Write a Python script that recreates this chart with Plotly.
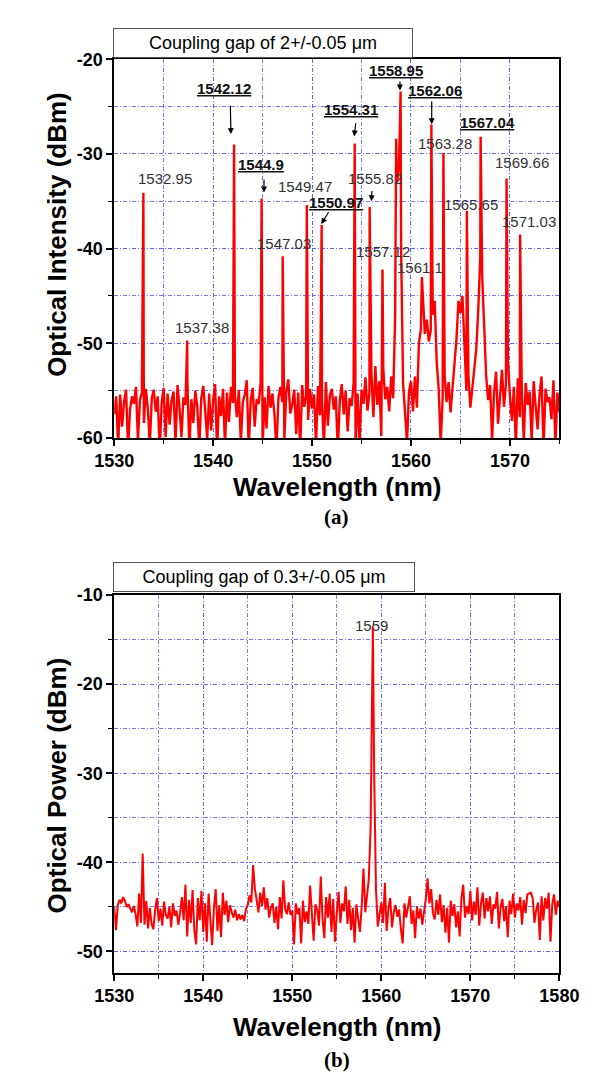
import plotly.graph_objects as go

W, H = 605, 1074

# ---------------- Panel (a) data: coupling gap 2 um ----------------
top_start = 1530.0
top_step = 0.2
top_trace = [
    -57.5, -55.6, -60.9, -55.4, -58.8, -56.1, -54.9, -61.2, -57.0, -55.6,
    -56.4, -54.6, -60.3, -56.0, -55.2, -58.4, -54.8, -56.9, -60.7, -55.8,
    -54.9, -57.2, -55.6, -61.4, -56.3, -54.7, -59.9, -55.3, -58.6, -56.0,
    -55.1, -60.6, -54.4, -56.8, -59.9, -55.7, -56.5, -54.2, -61.3, -55.9,
    -58.4, -55.0, -56.7, -61.0, -55.8, -54.5, -57.1, -60.2, -55.3, -59.2,
    -56.0, -54.3, -61.5, -55.6, -57.7, -54.8, -60.9, -55.2, -58.3, -54.6,
    -56.3, -55.5, -57.8, -54.9, -60.6, -56.2, -55.4, -53.9, -61.2, -56.0,
    -54.7, -58.8, -55.9, -56.4, -54.2, -60.9, -55.7, -59.0, -54.5, -56.8,
    -55.3, -57.5, -61.3, -55.8, -54.6, -56.2, -60.0, -55.1, -53.8, -57.4,
    -56.5, -54.9, -59.6, -55.2, -61.3, -54.4, -56.7, -55.6, -58.1, -54.8,
    -56.9, -55.4, -60.7, -54.5, -57.6, -55.9, -61.0, -54.1, -58.7, -55.5,
    -54.8, -57.0, -55.6, -61.4, -56.1, -54.3, -57.5, -55.0, -59.3, -55.8,
    -56.6, -54.2, -60.9, -55.3, -60.5, -54.9, -56.4, -53.6, -57.1, -55.2,
    -53.1, -57.8, -52.4, -56.5, -54.0, -59.8, -52.7, -55.9, -54.6, -57.2,
    -53.5, -55.8, -47.0, -33.0, -31.0, -40.0, -54.2, -57.6, -60.5, -55.1,
    -54.0, -57.2, -53.5, -56.8, -50.0, -48.5, -45.0, -49.0, -47.5, -49.8,
    -48.6, -47.0, -45.5, -52.0, -54.8, -60.6, -55.7, -53.4, -56.2, -54.1,
    -57.3, -54.6, -51.8, -49.5, -45.5, -46.8, -45.0, -50.5, -55.0, -53.3,
    -56.8, -54.5, -52.7, -50.6, -46.5, -41.0, -43.0, -48.2, -53.5, -56.0,
    -54.4, -60.1, -55.2, -53.0, -58.5, -55.6, -52.8, -56.7, -54.3, -51.9,
    -55.5, -58.2, -54.6, -61.0, -53.7, -57.8, -55.0, -60.3, -54.2, -56.5,
    -55.1, -60.4, -54.0, -56.6, -59.1, -55.3, -53.5, -61.2, -54.8, -56.2,
    -55.7, -58.0, -53.9, -60.8, -55.2, -57.3,
]
top_peak_wl = [1532.95, 1537.38, 1542.12, 1544.9, 1547.03, 1549.47, 1550.97,
               1554.31, 1555.82, 1557.12, 1558.5, 1558.95, 1561.1, 1562.06,
               1563.28, 1565.65, 1567.04, 1569.66, 1571.03]
top_peak_db = [-34.1, -49.7, -29.0, -34.7, -40.8, -35.4, -37.5,
               -28.9, -35.6, -42.2, -28.4, -23.4, -43.0, -26.9,
               -29.9, -36.0, -28.2, -32.6, -38.5]

top_label_text = ["1532.95", "1537.38", "1542.12", "1544.9", "1547.03", "1549.47",
                  "1550.97", "1554.31", "1555.82", "1557.12", "1558.95", "1561.1",
                  "1562.06", "1563.28", "1565.65", "1567.04", "1569.66", "1571.03"]
top_label_bold = [0, 0, 1, 1, 0, 0, 1, 1, 0, 0, 1, 0, 1, 0, 0, 1, 0, 0]

top_xticks = [1530, 1540, 1550, 1560, 1570]
top_yticks = [-60, -50, -40, -30, -20]
top_yticktext = ["-60", "-50", "-40", "-30", "-20"]

# ---------------- Panel (b) data: coupling gap 0.3 um ----------------
bot_start = 1530.0
bot_step = 0.2
bot_trace = [
    -45.0, -47.6, -44.8, -44.2, -44.6, -43.9, -44.3, -45.0, -44.7, -45.2,
    -45.6, -44.9, -45.8, -47.2, -43.5, -46.8, -39.0, -47.0, -44.3, -47.4,
    -45.1, -46.9, -47.5, -45.3, -44.0, -46.6, -45.2, -47.1, -44.4, -45.9,
    -46.3, -45.0, -47.3, -44.6, -46.0, -45.4, -47.0, -45.7, -43.9, -46.5,
    -42.5, -48.3, -44.2, -46.8, -43.1, -47.6, -49.2, -44.0, -46.5, -43.2,
    -47.8, -44.6, -48.9, -43.5, -46.2, -49.3, -45.1, -43.0, -47.7, -44.8,
    -48.4, -43.4, -45.9, -44.3, -46.7, -44.8, -45.6, -46.2, -45.3, -46.5,
    -45.8, -46.4, -45.9, -46.6, -45.2, -44.8, -43.7, -44.5, -40.3, -43.0,
    -44.2, -45.6, -43.4, -44.9, -42.8, -45.3, -44.0, -46.2, -45.1, -44.6,
    -46.8, -45.0, -47.5, -43.9, -46.3, -42.0, -45.2, -45.8, -44.5, -45.9,
    -45.4, -49.2, -44.6, -45.8, -45.1, -49.1, -44.3, -46.7, -45.5, -46.9,
    -42.6, -46.0, -48.8, -44.7, -45.3, -47.1, -41.6, -46.4, -48.5, -43.9,
    -46.2, -43.5, -47.8, -44.1, -48.9, -45.7, -43.3, -46.8, -44.6, -45.5,
    -42.7, -46.9, -44.2, -47.6, -45.1, -49.0, -44.7, -46.3, -47.8, -44.9,
    -40.7, -45.6, -43.5, -41.8, -36.0, -22.0, -30.0, -43.0, -47.2, -45.8,
    -44.5, -46.8, -42.3, -47.7, -45.2, -44.0, -47.3, -45.6, -44.8, -46.1,
    -45.3, -47.5, -49.1, -44.6, -46.2, -45.0, -43.8, -46.9, -45.4, -48.5,
    -44.9, -46.3, -45.2, -47.0, -45.5, -44.1, -41.8, -44.6, -43.0, -45.7,
    -46.4, -44.2, -45.9, -43.6, -46.7, -44.8, -47.9, -45.1, -49.0, -44.3,
    -46.0, -44.7, -47.3, -45.5, -48.3, -44.0, -42.5, -46.2, -44.9, -45.8,
    -43.2, -46.5, -44.4, -45.9, -42.8, -47.1, -44.6, -43.4, -46.3, -44.0,
    -45.5, -43.8, -46.9, -44.7, -45.2, -43.3, -47.4, -45.0, -44.1, -46.6,
    -44.9, -48.4, -44.3, -45.8, -43.5, -46.2, -44.6, -45.4, -43.9, -47.0,
    -44.2, -45.7, -43.6, -43.5, -43.4, -44.0, -46.8, -45.3, -44.5, -48.7,
    -43.8, -46.5, -44.0, -45.2, -43.4, -48.9, -44.7, -43.6, -45.9, -44.3,
    -45.0,
]
bot_peak_wl = [1559.05]
bot_peak_db = [-13.5]
bot_label_text = ["1559"]

bot_xticks = [1530, 1540, 1550, 1560, 1570, 1580]
bot_yticks = [-50, -40, -30, -20, -10]
bot_yticktext = ["-50", "-40", "-30", "-20", "-10"]


def merge(start, step, trace, pk_wl, pk_db):
    pts = [(round(start + i * step, 3), v) for i, v in enumerate(trace)]
    pts += list(zip(pk_wl, pk_db))
    pts.sort(key=lambda p: p[0])
    return [p[0] for p in pts], [p[1] for p in pts]


tx, ty = merge(top_start, top_step, top_trace, top_peak_wl, top_peak_db)
bx, by = merge(bot_start, bot_step, bot_trace, bot_peak_wl, bot_peak_db)

# ---------------- layout geometry (pixels) ----------------
PL, PR = 92.3, 569.0
TOP_T, TOP_B = 42.0, 428.0
BOT_T, BOT_B = 588.0, 973.0


def px(x):
    return x / W


def py(y):
    return 1 - y / H


FONT = "Liberation Sans, Arial, sans-serif"
SERIF = "Liberation Serif, Times New Roman, serif"
GRID = "rgba(95,95,235,0.85)"
DASH = "4px,2px,1px,2px"

fig = go.Figure()
fig.add_trace(go.Scatter(x=tx, y=ty, mode="lines", line=dict(color="#ff0000", width=2.4),
                         xaxis="x", yaxis="y", showlegend=False, hoverinfo="skip"))
fig.add_trace(go.Scatter(x=bx, y=by, mode="lines", line=dict(color="#ff0000", width=2.0),
                         xaxis="x2", yaxis="y2", showlegend=False, hoverinfo="skip"))


def axis(domain, rng, anchor, vals, texts=None):
    d = dict(
        domain=domain, range=rng, anchor=anchor,
        tickmode="array", tickvals=vals, ticktext=texts if texts else [str(v) for v in vals],
        showline=True, linecolor="black", linewidth=1.5, mirror=True,
        ticks="outside", ticklen=6, tickwidth=1.5, tickcolor="black",
        tickfont=dict(family=FONT, size=18, color="black", weight="bold"),
        showgrid=True, gridcolor=GRID, gridwidth=1, griddash=DASH, zeroline=False,
        minor=dict(tickmode="linear", tick0=0, dtick=5, ticks="outside", ticklen=4,
                   tickwidth=1.2, tickcolor="black",
                   showgrid=True, gridcolor=GRID, gridwidth=1, griddash=DASH),
    )
    return d


annotations = []


def text_ann(x, y, text, size, family=FONT, color="black", angle=0):
    annotations.append(dict(x=px(x), y=py(y), xref="paper", yref="paper", text=text,
                            showarrow=False, xanchor="center", yanchor="middle",
                            textangle=angle, font=dict(family=family, size=size, color=color)))


# titles
text_ann(330.5, 478, "<b>Wavelength (nm)</b>", 26)
text_ann(31, 220, "<b>Optical Intensity (dBm)</b>", 26, angle=-90)
text_ann(330.5, 508, "<b>(a)</b>", 21, family=SERIF)
text_ann(330.5, 1028, "<b>Wavelength (nm)</b>", 26)
text_ann(31, 782, "<b>Optical Power (dBm)</b>", 26, angle=-90)
text_ann(330.5, 1062, "<b>(b)</b>", 21, family=SERIF)

# boxed captions
for (x0, y0, w, h, txt) in [(91, 10, 298, 28, "Coupling gap of 2+/-0.05 \u03bcm"),
                            (91, 554, 300, 28, "Coupling gap of 0.3+/-0.05 \u03bcm")]:
    annotations.append(dict(x=px(x0), y=py(y0), xref="paper", yref="paper", text=txt,
                            showarrow=False, xanchor="left", yanchor="top", width=w, height=h,
                            align="center", valign="middle", bgcolor="white",
                            bordercolor="#555555", borderwidth=1, borderpad=0,
                            font=dict(family=FONT, size=18, color="black")))

# peak labels (pixel centres)
top_label_pos = [(146.7, 163.3), (186, 315), (210, 71.7), (249.3, 149.3), (274, 229.3),
                 (296.7, 171.7), (329.3, 187.7), (346, 93.3), (371.7, 163.3), (380, 238.3),
                 (394.3, 54), (420, 254), (435.7, 74), (446.7, 128.3), (474, 190),
                 (492, 106), (529.3, 147.3), (536, 207.3)]
for txt, bold, (x, y) in zip(top_label_text, top_label_bold, top_label_pos):
    if bold:
        text_ann(x, y, "<b><u>" + txt + "</u></b>", 15, color="#111111")
    else:
        text_ann(x, y, txt, 15, color="#333333")

bot_label_pos = [(368, 619)]
for txt, (x, y) in zip(bot_label_text, bot_label_pos):
    text_ann(x, y, txt, 15, color="#333333")

# arrows: (tail x, tail y, head x, head y)
arrows = [(216.7, 88.3, 217.3, 118.3), (252.7, 163.3, 252.7, 177.7),
          (322.3, 196.7, 314.0, 210.0), (351.0, 106.0, 349.3, 120.7),
          (368.3, 175.0, 367.7, 186.7), (398.3, 63.3, 398.3, 74.0),
          (432.3, 84.0, 432.3, 108.3)]
for (x0, y0, x1, y1) in arrows:
    annotations.append(dict(x=px(x1), y=py(y1), xref="paper", yref="paper", text="",
                            showarrow=True, ax=x0 - x1, ay=y0 - y1, arrowhead=2,
                            arrowsize=1, arrowwidth=1.2, arrowcolor="black", standoff=0))

fig.update_layout(
    width=W, height=H, margin=dict(l=0, r=0, t=0, b=0),
    paper_bgcolor="white", plot_bgcolor="white", showlegend=False,
    xaxis=axis([px(PL), px(PR)], [1530, 1575], "y", top_xticks),
    yaxis=axis([py(TOP_B), py(TOP_T)], [-60, -20], "x", top_yticks, top_yticktext),
    xaxis2=axis([px(PL), px(PR)], [1530, 1580], "y2", bot_xticks),
    yaxis2=axis([py(BOT_B), py(BOT_T)], [-52.4, -10], "x2", bot_yticks, bot_yticktext),
    annotations=annotations,
)

fig.write_html("out.html")
